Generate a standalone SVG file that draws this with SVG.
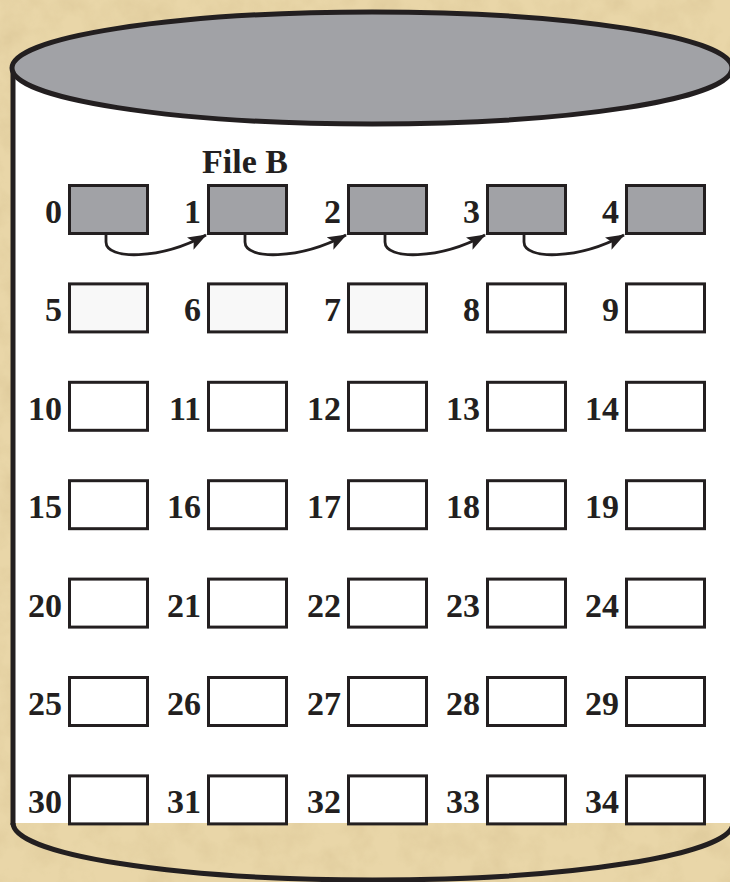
<svg xmlns="http://www.w3.org/2000/svg" width="730" height="882" viewBox="0 0 730 882">
<style>
.blk{fill:#fff;stroke:#231f20;stroke-width:3}
.used{fill:#a1a2a6}
.free{fill:#f8f8f8}
.lbl{font-family:"Liberation Serif","Times New Roman",serif;font-weight:bold;font-size:34px;fill:#231f20;text-anchor:end}
.title{font-family:"Liberation Serif","Times New Roman",serif;font-weight:bold;font-size:34px;fill:#231f20;text-anchor:middle}
.link{fill:none;stroke:#231f20;stroke-width:2.8;marker-end:url(#ah)}
</style>
<defs>
<marker id="ah" viewBox="0 0 19 14" refX="18" refY="7" markerWidth="19" markerHeight="14" markerUnits="userSpaceOnUse" orient="auto">
<path d="M0,0 L19,7 L0,14 L4,7 Z" fill="#231f20"/>
</marker>
<filter id="tex" x="0" y="0" width="100%" height="100%">
<feTurbulence type="fractalNoise" baseFrequency="0.035" numOctaves="4" seed="3"/>
<feColorMatrix type="matrix" values="0 0 0 0 0.55  0 0 0 0 0.42  0 0 0 0 0.2  0 0 0 0.9 -0.35"/>
</filter>
</defs>
<rect x="0" y="0" width="730" height="882" fill="#e9d6a8"/>
<rect x="0" y="0" width="730" height="882" filter="url(#tex)" opacity="0.5"/>
<g id="cylinder">
<rect x="13" y="68" width="730" height="755" fill="#fff"/>
<line x1="13" y1="66" x2="13" y2="825" stroke="#231f20" stroke-width="5"/>
<path d="M13,823 A360,57 0 0 0 733,823" fill="none" stroke="#231f20" stroke-width="5"/>
<ellipse cx="372" cy="68" rx="360" ry="56" fill="#a1a2a6" stroke="#231f20" stroke-width="5"/>
</g>
<text id="fileB" class="title" x="245" y="173">File B</text>
<g id="connectors">
<path class="link" d="M106,234 L106,242 C106,260 160,260 206,235"/>
<path class="link" d="M245,234 L245,242 C245,260 299,260 346,235"/>
<path class="link" d="M385,234 L385,242 C385,260 439,260 485,235"/>
<path class="link" d="M524,234 L524,242 C524,260 578,260 624,235"/>
</g>
<g id="b0"><rect class="blk used" x="69.5" y="185.5" width="78" height="48"/><text class="lbl" x="62" y="223">0</text></g>
<g id="b1"><rect class="blk used" x="208.5" y="185.5" width="78" height="48"/><text class="lbl" x="201" y="223">1</text></g>
<g id="b2"><rect class="blk used" x="348.5" y="185.5" width="78" height="48"/><text class="lbl" x="341" y="223">2</text></g>
<g id="b3"><rect class="blk used" x="487.5" y="185.5" width="78" height="48"/><text class="lbl" x="480" y="223">3</text></g>
<g id="b4"><rect class="blk used" x="626.5" y="185.5" width="78" height="48"/><text class="lbl" x="619" y="223">4</text></g>
<g id="b5"><rect class="blk free" x="69.5" y="283.9" width="78" height="48"/><text class="lbl" x="62" y="321">5</text></g>
<g id="b6"><rect class="blk free" x="208.5" y="283.9" width="78" height="48"/><text class="lbl" x="201" y="321">6</text></g>
<g id="b7"><rect class="blk free" x="348.5" y="283.9" width="78" height="48"/><text class="lbl" x="341" y="321">7</text></g>
<g id="b8"><rect class="blk" x="487.5" y="283.9" width="78" height="48"/><text class="lbl" x="480" y="321">8</text></g>
<g id="b9"><rect class="blk" x="626.5" y="283.9" width="78" height="48"/><text class="lbl" x="619" y="321">9</text></g>
<g id="b10"><rect class="blk" x="69.5" y="382.3" width="78" height="48"/><text class="lbl" x="62" y="420">10</text></g>
<g id="b11"><rect class="blk" x="208.5" y="382.3" width="78" height="48"/><text class="lbl" x="201" y="420">11</text></g>
<g id="b12"><rect class="blk" x="348.5" y="382.3" width="78" height="48"/><text class="lbl" x="341" y="420">12</text></g>
<g id="b13"><rect class="blk" x="487.5" y="382.3" width="78" height="48"/><text class="lbl" x="480" y="420">13</text></g>
<g id="b14"><rect class="blk" x="626.5" y="382.3" width="78" height="48"/><text class="lbl" x="619" y="420">14</text></g>
<g id="b15"><rect class="blk" x="69.5" y="480.7" width="78" height="48"/><text class="lbl" x="62" y="518">15</text></g>
<g id="b16"><rect class="blk" x="208.5" y="480.7" width="78" height="48"/><text class="lbl" x="201" y="518">16</text></g>
<g id="b17"><rect class="blk" x="348.5" y="480.7" width="78" height="48"/><text class="lbl" x="341" y="518">17</text></g>
<g id="b18"><rect class="blk" x="487.5" y="480.7" width="78" height="48"/><text class="lbl" x="480" y="518">18</text></g>
<g id="b19"><rect class="blk" x="626.5" y="480.7" width="78" height="48"/><text class="lbl" x="619" y="518">19</text></g>
<g id="b20"><rect class="blk" x="69.5" y="579.1" width="78" height="48"/><text class="lbl" x="62" y="617">20</text></g>
<g id="b21"><rect class="blk" x="208.5" y="579.1" width="78" height="48"/><text class="lbl" x="201" y="617">21</text></g>
<g id="b22"><rect class="blk" x="348.5" y="579.1" width="78" height="48"/><text class="lbl" x="341" y="617">22</text></g>
<g id="b23"><rect class="blk" x="487.5" y="579.1" width="78" height="48"/><text class="lbl" x="480" y="617">23</text></g>
<g id="b24"><rect class="blk" x="626.5" y="579.1" width="78" height="48"/><text class="lbl" x="619" y="617">24</text></g>
<g id="b25"><rect class="blk" x="69.5" y="677.5" width="78" height="48"/><text class="lbl" x="62" y="715">25</text></g>
<g id="b26"><rect class="blk" x="208.5" y="677.5" width="78" height="48"/><text class="lbl" x="201" y="715">26</text></g>
<g id="b27"><rect class="blk" x="348.5" y="677.5" width="78" height="48"/><text class="lbl" x="341" y="715">27</text></g>
<g id="b28"><rect class="blk" x="487.5" y="677.5" width="78" height="48"/><text class="lbl" x="480" y="715">28</text></g>
<g id="b29"><rect class="blk" x="626.5" y="677.5" width="78" height="48"/><text class="lbl" x="619" y="715">29</text></g>
<g id="b30"><rect class="blk" x="69.5" y="775.9" width="78" height="48"/><text class="lbl" x="62" y="813">30</text></g>
<g id="b31"><rect class="blk" x="208.5" y="775.9" width="78" height="48"/><text class="lbl" x="201" y="813">31</text></g>
<g id="b32"><rect class="blk" x="348.5" y="775.9" width="78" height="48"/><text class="lbl" x="341" y="813">32</text></g>
<g id="b33"><rect class="blk" x="487.5" y="775.9" width="78" height="48"/><text class="lbl" x="480" y="813">33</text></g>
<g id="b34"><rect class="blk" x="626.5" y="775.9" width="78" height="48"/><text class="lbl" x="619" y="813">34</text></g>
</svg>
